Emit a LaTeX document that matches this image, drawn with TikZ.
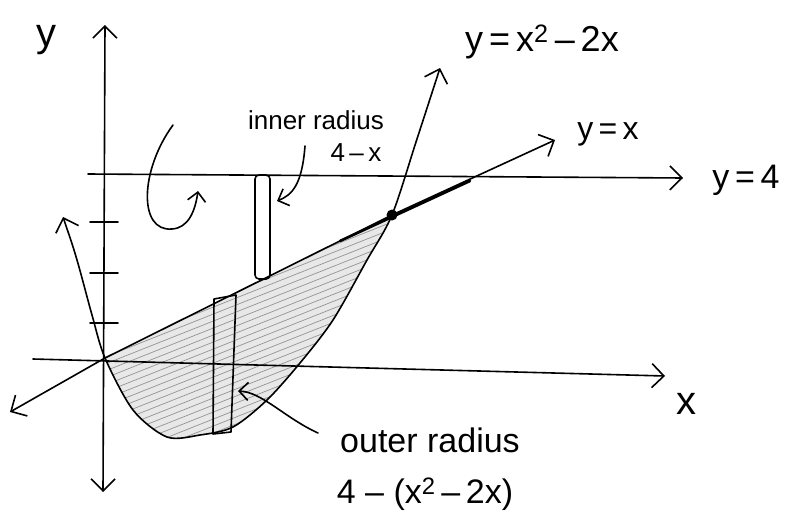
\documentclass[tikz,border=0pt]{standalone}
\usepackage{fontspec}
\setmainfont{Liberation Sans}
\usepackage{tikz}
\usetikzlibrary{arrows.meta,positioning,calc}

\newcommand{\handsize}[1]{\fontsize{#1}{#1}\selectfont}

\begin{document}
\begin{tikzpicture}[
  x=1pt,
  y=-1pt,
  pen/.style={line width=1.6pt,line cap=round,line join=round},
  axis/.style={pen,{Straight Barb[length=12pt,width=24pt]}-{Straight Barb[length=12pt,width=24pt]}},
  rayaxis/.style={pen,-{Straight Barb[length=12pt,width=24pt]}},
  pointer/.style={pen,-{Straight Barb[length=9pt,width=18pt]}},
  hatch/.style={gray!85,line width=0.7pt},
  txt/.style={inner sep=1pt}
]
  \useasboundingbox (0,0) rectangle (794,527);

  \coordinate (O) at (105,358);
  \coordinate (P) at (392,215);

  % shaded region between y=x and the parabola
  \fill[black!9] plot[smooth] coordinates {(105,358) (133,410) (167,437) (200,435) (233,427)
    (267,400) (300,363) (333,320) (367,260) (392,215)} -- cycle;
  \begin{scope}
    \clip plot[smooth] coordinates {(105,358) (133,410) (167,437) (200,435) (233,427)
      (267,400) (300,363) (333,320) (367,260) (392,215)} -- cycle;
    \foreach \k in {0,...,50}
      \draw[hatch] (90,{230+\k*7}) -- (430,{230+\k*7-135});
  \end{scope}

  % axes
  \draw[axis] (103,492) -- (105,25);
  \draw[rayaxis] (33,359) -- (665,376);
  \draw[rayaxis] (88,174) -- (683,178);
  \foreach \t in {222,273,323}
    \draw[pen] (90,\t) -- (118,\t);

  % y = x
  \draw[axis] (10,412) -- (O) -- (P) -- (555,140);
  \draw[line width=2.6pt,line cap=round] (340,241) -- (470,181);

  % y = x^2 - 2x
  \draw[axis] plot[smooth] coordinates {(63,217) (77,260) (92,315) (105,358) (133,410) (167,437)
    (200,435) (233,427) (267,400) (300,363) (333,320) (367,260) (392,215) (416,142) (440,68)};
  \fill (P) circle (5.5);

  % rotation arrow
  \draw[pointer] (173,125) .. controls (140,170) and (138,232) .. (172,229)
    .. controls (188,228) and (195,212) .. (198,191);

  % washers
  \draw[pen,rounded corners=4pt] (255,175) rectangle (270,279);
  \draw[pen] (214,299) -- (236,295) -- (231,432) -- (213,434) -- cycle;

  % labels
  \node[txt,font=\handsize{40}] (ylab) at (46,40) {y};
  \node[txt,font=\handsize{40}] (xlab) at (686,404) {x};
  \node[txt,font=\handsize{36}] (eqpar) at (542,42) {y\,=\,x\textsuperscript{2}\,–\,2x};
  \node[txt,font=\handsize{32}] (eqline) at (608,134) {y\,=\,x};
  \node[txt,font=\handsize{34}] (eqfour) at (746,180) {y\,=\,4};
  \node[txt,font=\handsize{26}] (inner) at (316,120) {inner radius};
  \node[txt,font=\handsize{26}] (innerval) at (356,153) {4\,–\,x};
  \node[txt,font=\handsize{34}] (outer) at (430,440) {outer radius};
  \node[txt,font=\handsize{34}] (outerval) at (425,494) {4 – (x\textsuperscript{2}\,–\,2x)};

  \coordinate (innertail) at (305,146);
  \coordinate (innerhead) at (277,201);
  \coordinate (outertail) at (318,433);
  \coordinate (outerhead) at (238,391);
  \draw[pointer] (innertail) .. controls (302,185) and (292,195) .. (innerhead);
  \draw[pointer] (outertail) .. controls (285,418) and (262,392) .. (outerhead);
\end{tikzpicture}
\end{document}
